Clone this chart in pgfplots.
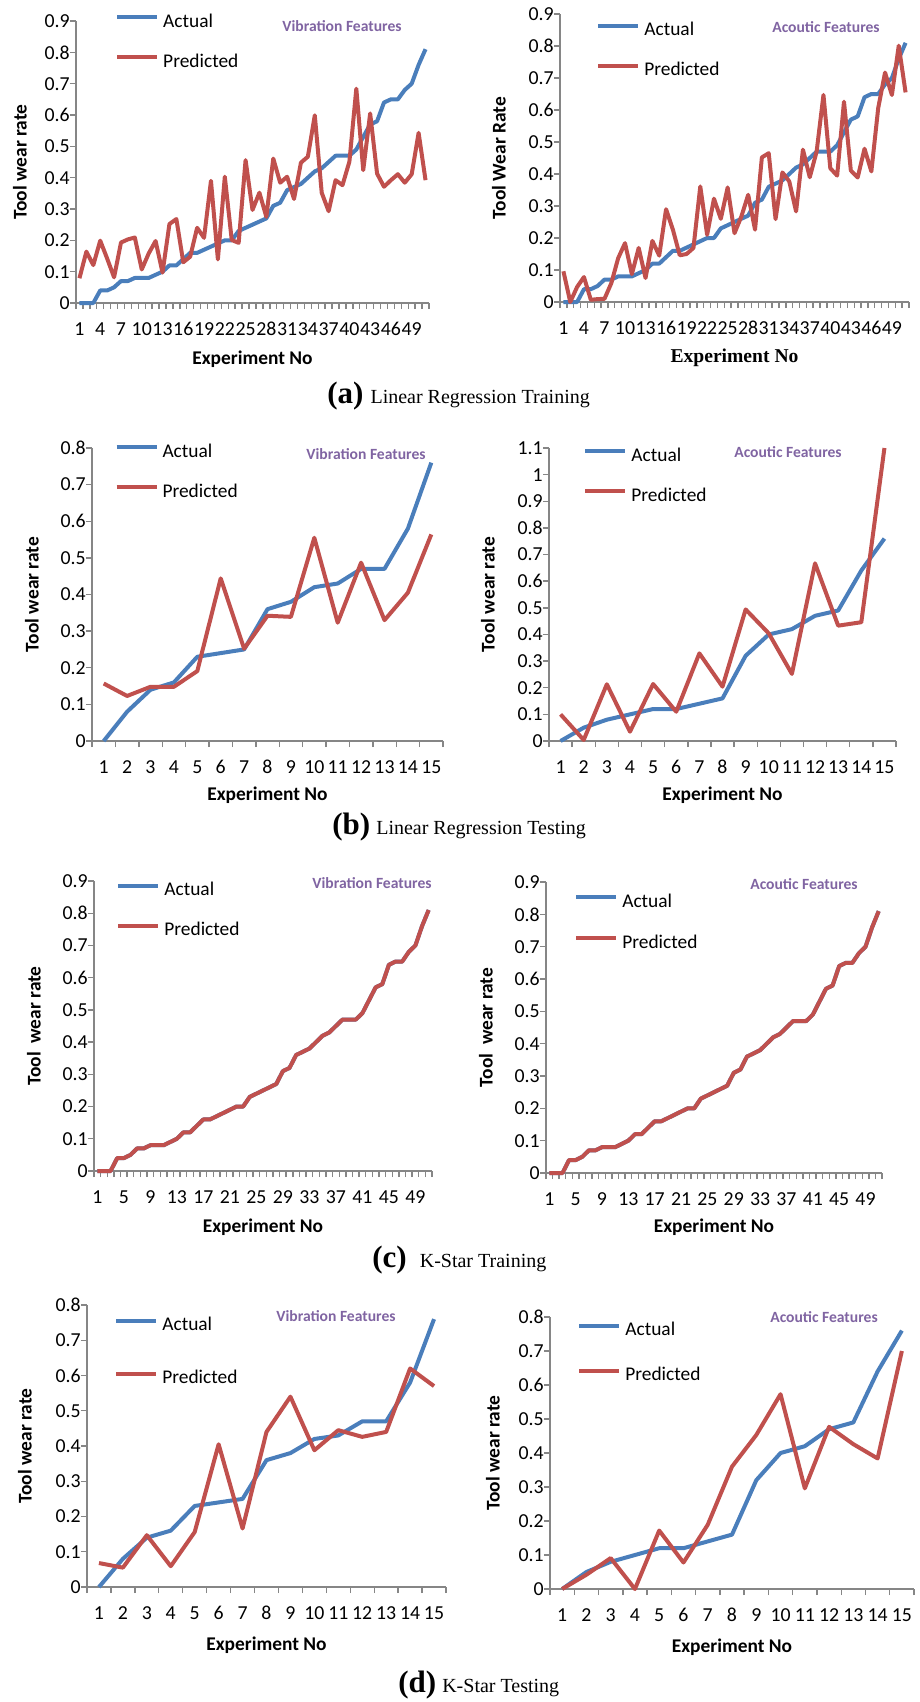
\documentclass[border=0pt]{standalone}
\usepackage{pgfplots}
\pgfplotsset{compat=1.18}
\usepackage{pgfplotstable}
\usepackage{fontspec}
\setmainfont{Carlito}
\newfontfamily\serif{Liberation Serif}

\definecolor{actblue}{RGB}{74,126,187}
\definecolor{predred}{RGB}{192,80,77}
\definecolor{axgray}{RGB}{134,134,134}
\definecolor{notepurple}{RGB}{128,100,162}

\newcommand\tickfont{\fontsize{9.9}{11}\selectfont}
\newcommand\labfont{\fontsize{9.7}{11}\selectfont\bfseries}
\newcommand\notefont{\fontsize{7.8}{9}\selectfont\bfseries}

% training set: measured wear, linear-regression predictions (vibration, acoustic)
\pgfplotstableread{
i  act   pv     pa
1  0     0.079  0.096
2  0     0.164  0.000
3  0     0.121  0.047
4  0.04  0.199  0.078
5  0.04  0.142  0.007
6  0.05  0.082  0.009
7  0.07  0.193  0.010
8  0.07  0.203  0.059
9  0.08  0.209  0.137
10 0.08  0.107  0.184
11 0.08  0.158  0.087
12 0.09  0.198  0.169
13 0.10  0.097  0.075
14 0.12  0.252  0.191
15 0.12  0.268  0.145
16 0.14  0.130  0.290
17 0.16  0.148  0.226
18 0.16  0.240  0.146
19 0.17  0.208  0.150
20 0.18  0.390  0.169
21 0.19  0.139  0.361
22 0.20  0.403  0.210
23 0.20  0.201  0.323
24 0.23  0.192  0.260
25 0.24  0.456  0.358
26 0.25  0.297  0.215
27 0.26  0.352  0.267
28 0.27  0.275  0.335
29 0.31  0.461  0.226
30 0.32  0.384  0.452
31 0.36  0.403  0.465
32 0.37  0.332  0.259
33 0.38  0.448  0.405
34 0.40  0.467  0.377
35 0.42  0.599  0.283
36 0.43  0.352  0.476
37 0.45  0.293  0.390
38 0.47  0.392  0.470
39 0.47  0.376  0.647
40 0.47  0.451  0.418
41 0.49  0.684  0.395
42 0.53  0.424  0.626
43 0.57  0.605  0.411
44 0.58  0.413  0.389
45 0.64  0.371  0.479
46 0.65  0.392  0.408
47 0.65  0.411  0.606
48 0.68  0.384  0.717
49 0.70  0.411  0.647
50 0.76  0.543  0.801
51 0.81  0.392  0.655
}\train

% testing set, vibration features: measured, linear regression, K-Star
\pgfplotstableread{
i  act   lr     ks
1  0     0.157  0.068
2  0.08  0.123  0.055
3  0.14  0.148  0.147
4  0.16  0.148  0.059
5  0.23  0.191  0.156
6  0.24  0.444  0.405
7  0.25  0.252  0.166
8  0.36  0.342  0.440
9  0.38  0.339  0.540
10 0.42  0.555  0.388
11 0.43  0.323  0.445
12 0.47  0.487  0.426
13 0.47  0.330  0.440
14 0.58  0.405  0.620
15 0.76  0.564  0.570
}\testvib

% testing set, acoustic features: measured, linear regression, K-Star
\pgfplotstableread{
i  act   lr     ks
1  0     0.100  0.000
2  0.05  0.004  0.042
3  0.08  0.213  0.091
4  0.10  0.035  0.000
5  0.12  0.214  0.172
6  0.12  0.110  0.078
7  0.14  0.329  0.189
8  0.16  0.204  0.360
9  0.32  0.494  0.453
10 0.40  0.404  0.573
11 0.42  0.252  0.296
12 0.47  0.667  0.477
13 0.49  0.433  0.426
14 0.64  0.446  0.384
15 0.76  1.100  0.700
}\testac

\pgfplotsset{
  panel/.style={
    scale only axis, anchor=south west, clip=false,
    axis x line=bottom, axis y line=left,
    axis line style={-, draw=axgray, line width=0.7pt},
    tick style={draw=axgray, line width=0.7pt},
    tick align=outside, major tick length=3pt,
    ymin=0, ytick distance=0.1,
    /pgf/number format/assume math mode=true,
    yticklabel style={font=\tickfont, inner sep=0pt,
      /pgf/number format/fixed, /pgf/number format/precision=1},
    xticklabel style={font=\tickfont, inner sep=0pt, yshift=-9.5pt},
    xticklabels={},
    extra x tick style={major tick length=0pt},
    legend cell align=left,
    legend image code/.code={\draw[##1] (0pt,2.6pt) -- (20pt,2.6pt);},
    legend style={draw=none, fill=none, anchor=west, inner sep=0pt,
      font=\fontsize{9.7}{11}\selectfont,
      nodes={inner sep=0pt, text height=7pt, text depth=2pt},
      /tikz/every odd column/.append style={column sep=2pt}},
  },
  ylab/.style={every axis y label/.style={at={(axis description cs:0,0.5)},
      xshift=-#1, rotate=90, anchor=center, font=\labfont}},
  xlab/.style={every axis x label/.style={at={(axis description cs:0.5,0)},
      yshift=-#1, anchor=center, font=\labfont}},
  train3/.style={xmin=0.5, xmax=51.5, xtick={0.5,1.5,...,51.5},
    extra x ticks={1,4,7,10,13,16,19,22,25,28,31,34,37,40,43,46,49},
    extra x tick labels={1,4,7,10,13,16,19,22,25,28,31,34,37,40,43,46,49}},
  train4/.style={xmin=0.5, xmax=51.5, xtick={0.5,1.5,...,51.5},
    extra x ticks={1,5,9,13,17,21,25,29,33,37,41,45,49},
    extra x tick labels={1,5,9,13,17,21,25,29,33,37,41,45,49}},
  test/.style={xmin=0.5, xmax=15.5, xtick={0.5,1.5,...,15.5},
    extra x ticks={1,2,3,4,5,6,7,8,9,10,11,12,13,14,15},
    extra x tick labels={1,2,3,4,5,6,7,8,9,10,11,12,13,14,15}},
  actual/.style={actblue, line width=2pt, line join=round},
  predicted/.style={predred, line width=2pt, line join=round},
}

\begin{document}
\begin{tikzpicture}
\useasboundingbox (0pt,0pt) rectangle (460pt,-851pt);

% (a) linear regression, training
\begin{axis}[panel, train3, at={(38pt,-151.5pt)}, width=176.5pt, height=141pt,
  ymax=0.9, ylabel={Tool wear rate}, ylab=28pt, xlab=28pt,
  xlabel={Experiment No},
  legend style={at={(0.110,0.924)}, row sep=11pt}]
\addplot[actual] table[x=i, y=act] {\train};
\addlegendentry{Actual}
\addplot[predicted] table[x=i, y=pv] {\train};
\addlegendentry{Predicted}
\end{axis}

% this panel's x title is set in serif below
\begin{axis}[panel, train3, at={(280pt,-151pt)}, width=174.5pt, height=144pt,
  ymax=0.9, ylabel={Tool Wear Rate}, ylab=30.5pt,
  legend style={at={(0.103,0.872)}, row sep=11pt}]
\addplot[actual] table[x=i, y=act] {\train};
\addlegendentry{Actual}
\addplot[predicted] table[x=i, y=pa] {\train};
\addlegendentry{Predicted}
\end{axis}
\node[font=\serif\fontsize{9.8}{11}\selectfont\bfseries, anchor=center]
  at (367.25pt,-179pt) {Experiment No};

% (b) linear regression, testing
\begin{axis}[panel, test, at={(46pt,-370.5pt)}, width=175.5pt, height=146.5pt,
  ymax=0.8, ylabel={Tool wear rate}, ylab=30pt, xlab=27pt,
  xlabel={Experiment No},
  legend style={at={(0.063,0.918)}, row sep=11pt}]
\addplot[actual] table[x=i, y=act] {\testvib};
\addlegendentry{Actual}
\addplot[predicted] table[x=i, y=lr] {\testvib};
\addlegendentry{Predicted}
\end{axis}

\begin{axis}[panel, test, at={(274.5pt,-370.5pt)}, width=173.5pt, height=146.5pt,
  ymax=1.1, ylabel={Tool wear rate}, ylab=30.5pt, xlab=27pt,
  xlabel={Experiment No},
  legend style={at={(0.098,0.904)}, row sep=11pt}]
\addplot[actual] table[x=i, y=act] {\testac};
\addlegendentry{Actual}
\addplot[predicted] table[x=i, y=lr] {\testac};
\addlegendentry{Predicted}
\end{axis}

% (c) K-Star, training
\begin{axis}[panel, train4, at={(47pt,-585.5pt)}, width=169pt, height=145pt,
  ymax=0.9, ylabel={Tool~~wear rate}, ylab=30pt, xlab=28pt,
  xlabel={Experiment No},
  legend style={at={(0.065,0.897)}, row sep=11pt}]
\addplot[actual] table[x=i, y=act] {\train};
\addlegendentry{Actual}
\addplot[predicted] table[x=i, y=act] {\train};
\addlegendentry{Predicted}
\end{axis}

\begin{axis}[panel, train4, at={(273pt,-586.5pt)}, width=168pt, height=145.5pt,
  ymax=0.9, ylabel={Tool~~wear rate}, ylab=30pt, xlab=27pt,
  xlabel={Experiment No},
  legend style={at={(0.083,0.859)}, row sep=11.5pt}]
\addplot[actual] table[x=i, y=act] {\train};
\addlegendentry{Actual}
\addplot[predicted] table[x=i, y=act] {\train};
\addlegendentry{Predicted}
\end{axis}

% (d) K-Star, testing
\begin{axis}[panel, test, at={(43.5pt,-793.5pt)}, width=179.5pt, height=141pt,
  ymax=0.8, ylabel={Tool wear rate}, ylab=31pt, xlab=29pt,
  xlabel={Experiment No},
  legend style={at={(0.075,0.832)}, row sep=17.5pt}]
\addplot[actual] table[x=i, y=act] {\testvib};
\addlegendentry{Actual}
\addplot[predicted] table[x=i, y=ks] {\testvib};
\addlegendentry{Predicted}
\end{axis}

\begin{axis}[panel, test, at={(275pt,-794.5pt)}, width=182pt, height=136pt,
  ymax=0.8, ylabel={Tool wear rate}, ylab=28.5pt, xlab=29pt,
  xlabel={Experiment No},
  legend style={at={(0.074,0.866)}, row sep=13.5pt}]
\addplot[actual] table[x=i, y=act] {\testac};
\addlegendentry{Actual}
\addplot[predicted] table[x=i, y=ks] {\testac};
\addlegendentry{Predicted}
\end{axis}

% feature-set notes
\begin{scope}[every node/.style={font=\notefont, text=notepurple, inner sep=0pt}]
\node at (171pt,-13pt) {Vibration Features};
\node at (413pt,-13.5pt) {Acoutic Features};
\node at (183pt,-227pt) {Vibration Features};
\node at (394pt,-226pt) {Acoutic Features};
\node at (186pt,-441.5pt) {Vibration Features};
\node at (402pt,-442pt) {Acoutic Features};
\node at (168pt,-658pt) {Vibration Features};
\node at (412pt,-658.5pt) {Acoutic Features};
\end{scope}

% sub-figure captions
\begin{scope}[every node/.style={anchor=base west, inner sep=0pt}]
\node at (163.5pt,-201.5pt) {{\serif\fontsize{15.5}{16}\selectfont\bfseries (a)}\hspace{3.5pt}{\serif\fontsize{10}{12}\selectfont Linear Regression Training}};
\node at (166pt,-417pt) {{\serif\fontsize{15.5}{16}\selectfont\bfseries (b)}\hspace{3pt}{\serif\fontsize{10}{12}\selectfont Linear Regression Testing}};
\node at (186pt,-633.5pt) {{\serif\fontsize{15.5}{16}\selectfont\bfseries (c)}\hspace{6.5pt}{\serif\fontsize{10}{12}\selectfont K-Star Training}};
\node at (199pt,-846pt) {{\serif\fontsize{15.5}{16}\selectfont\bfseries (d)}\hspace{3pt}{\serif\fontsize{10}{12}\selectfont K-Star Testing}};
\end{scope}
\end{tikzpicture}
\end{document}
